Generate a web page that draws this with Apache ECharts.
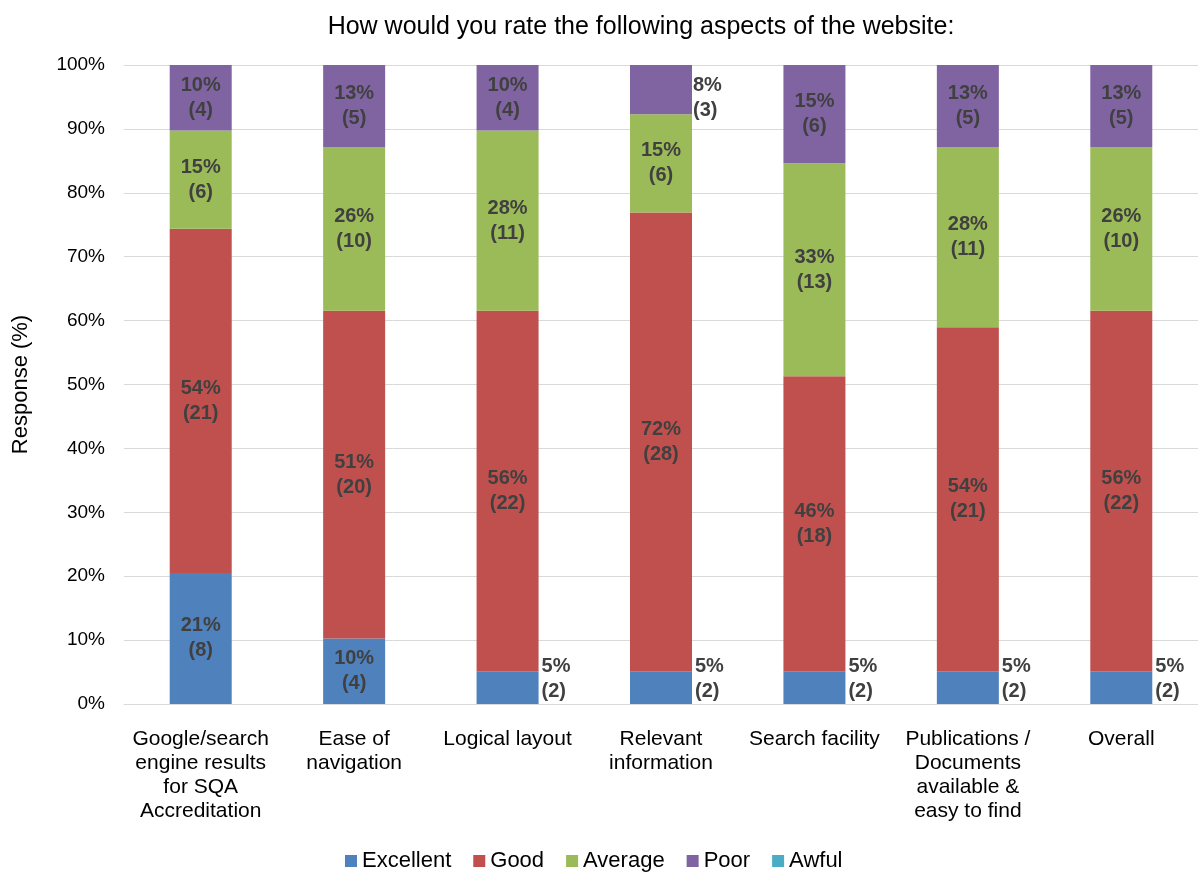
<!DOCTYPE html>
<html>
<head>
<meta charset="utf-8">
<script src="https://cdn.jsdelivr.net/npm/echarts@6/dist/echarts.min.js"></script>
<style>
  html, body { margin: 0; padding: 0; background: #fff; }
  #main { width: 1198px; height: 874px; }
</style>
</head>
<body>
<div id="main"></div>
<script>
// categories and response counts (39 respondents each)
var categories = [
  'Google/search\nengine results\nfor SQA\nAccreditation',
  'Ease of\nnavigation',
  'Logical layout',
  'Relevant\ninformation',
  'Search facility',
  'Publications /\nDocuments\navailable &\neasy to find',
  'Overall'
];
var excellent = [8, 4, 2, 2, 2, 2, 2];
var good      = [21, 20, 22, 28, 18, 21, 22];
var average   = [6, 10, 11, 6, 13, 11, 10];
var poor      = [4, 5, 4, 3, 6, 5, 5];
var awful     = [0, 0, 0, 0, 0, 0, 0];
var yTicks = [0, 10, 20, 30, 40, 50, 60, 70, 80, 90, 100];

var seriesNames = ['Excellent', 'Good', 'Average', 'Poor', 'Awful'];
var seriesCounts = [excellent, good, average, poor, awful];
var colors = ['#4F81BD', '#C0504D', '#9BBB59', '#8064A2', '#4BACC6'];

var totals = categories.map(function (c, i) {
  return seriesCounts.reduce(function (s, arr) { return s + arr[i]; }, 0);
});

var font = 'Arial, "Liberation Sans", sans-serif';

function buildSeries(name, counts, idx) {
  return {
    name: name,
    type: 'bar',
    stack: 'all',
    barWidth: 62,
    itemStyle: { color: colors[idx] },
    data: counts.map(function (n, i) {
      var pct = n / totals[i] * 100;
      var item = { value: pct, count: n };
      if (n === 0) {
        item.label = { show: false };
      } else if (pct < 9) {
        // small slices get their label beside the bar
        item.label = {
          position: 'right',
          distance: idx === 0 ? 3 : 1,
          align: 'left',
          offset: idx === 0 ? [0, -9] : [0, 8]
        };
      }
      return item;
    }),
    label: {
      show: true,
      position: 'inside',
      color: '#404040',
      fontFamily: font,
      fontWeight: 'bold',
      fontSize: 20,
      lineHeight: 25,
      formatter: function (p) {
        return Math.round(p.value) + '%\n(' + p.data.count + ')';
      }
    }
  };
}

var chart = echarts.init(document.getElementById('main'));
chart.setOption({
  animation: false,
  color: colors,
  title: {
    text: 'How would you rate the following aspects of the website:',
    left: 636,
    top: 10,
    textAlign: 'center',
    textStyle: { fontFamily: font, fontSize: 25, fontWeight: 'normal', color: '#000' }
  },
  grid: { left: 124, top: 65, width: 1080, height: 639 },
  legend: {
    bottom: -3,
    left: 340,
    itemWidth: 12,
    itemHeight: 12,
    itemGap: 22,
    icon: 'rect',
    data: seriesNames,
    textStyle: { fontFamily: font, fontSize: 22, color: '#000' }
  },
  xAxis: {
    type: 'category',
    data: categories,
    axisLine: { lineStyle: { color: '#d9d9d9' } },
    axisTick: { show: false },
    axisLabel: {
      interval: 0,
      margin: 23,
      color: '#000',
      fontFamily: font,
      fontSize: 21,
      lineHeight: 24,
      align: 'center'
    }
  },
  yAxis: {
    type: 'value',
    min: 0,
    max: 100,
    interval: 10,
    name: 'Response (%)',
    nameLocation: 'middle',
    nameGap: 92,
    nameTextStyle: { fontFamily: font, fontSize: 22, color: '#000' },
    axisLine: { show: false },
    axisTick: { show: false },
    splitLine: { lineStyle: { color: '#d9d9d9' } },
    axisLabel: {
      margin: 19,
      color: '#000',
      fontFamily: font,
      fontSize: 19,
      formatter: function (v) { return yTicks.indexOf(v) >= 0 ? v + '%' : ''; }
    }
  },
  series: seriesNames.map(function (n, i) { return buildSeries(n, seriesCounts[i], i); })
});
</script>
</body>
</html>
